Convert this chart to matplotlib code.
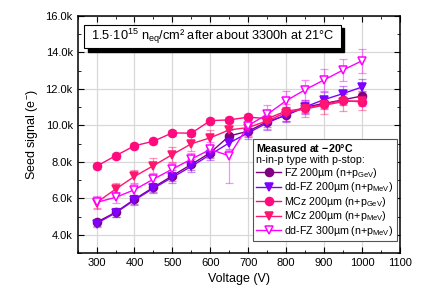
import matplotlib.pyplot as plt
from matplotlib.patches import Rectangle
from matplotlib.ticker import MultipleLocator, FuncFormatter

plt.rcParams['font.family'] = ['Liberation Sans', 'DejaVu Sans']
plt.rcParams['mathtext.fontset'] = 'custom'
plt.rcParams['mathtext.rm'] = 'Liberation Sans'
plt.rcParams['mathtext.bf'] = 'Liberation Sans:bold'
plt.rcParams['mathtext.default'] = 'regular'

voltage = [300, 350, 400, 450, 500, 550, 600, 650, 700, 750, 800, 850, 900, 950, 1000]

# seed signal (e-) per sample
fz200_gev = [4690, 5230, 5950, 6600, 7240, 7860, 8500, 9420, 9680, 10200, 10550, 11000, 11200, 11400, 11610]
ddfz200_mev = [4620, 5200, 5900, 6550, 7150, 7750, 8400, 9040, 9590, 10130, 10590, 11010, 11410, 11740, 12100]
mcz200_gev = [7760, 8330, 8880, 9130, 9590, 9570, 10260, 10300, 10450, 10370, 10780, 10930, 11150, 11370, 11280]
mcz200_mev = [5770, 6500, 7200, 7790, 8400, 8990, 9320, 9750, 9880, 10250, 10700, 10900, 11100, 11300, 11350]
ddfz300_mev = [5780, 6050, 6470, 7050, 7600, 8150, 8680, 8330, 9990, 10600, 11350, 11950, 12490, 13030, 13540]

# errors
fz200_gev_err = [200, 250, 250, 250, 300, 300, 300, 300, 300, 300, 300, 300, 300, 300, 300]
ddfz200_mev_err = [200, 250, 250, 250, 300, 300, 300, 350, 350, 400, 400, 400, 400, 400, 450]
mcz200_gev_err = [150, 150, 150, 150, 150, 150, 150, 150, 150, 200, 200, 200, 200, 200, 200]
mcz200_mev_err = [300, 350, 350, 400, 400, 400, 400, 450, 450, 450, 450, 450, 450, 500, 500]
ddfz300_err_lo = [350, 300, 300, 300, 350, 350, 400, 1500, 500, 500, 550, 550, 600, 600, 650]
ddfz300_err_hi = [350, 300, 300, 300, 350, 350, 400, 300, 500, 500, 550, 550, 600, 600, 650]

series = [
    (fz200_gev, fz200_gev_err, 'FZ 200µm (n+p$_{GeV}$)', '#800080', 'o', True),
    (ddfz200_mev, ddfz200_mev_err, 'dd-FZ 200µm (n+p$_{MeV}$)', '#7f00ff', 'v', True),
    (mcz200_gev, mcz200_gev_err, 'MCz 200µm (n+p$_{GeV}$)', '#ff0a7f', 'o', True),
    (mcz200_mev, mcz200_mev_err, 'MCz 200µm (n+p$_{MeV}$)', '#ff1670', 'v', True),
    (ddfz300_mev, [ddfz300_err_lo, ddfz300_err_hi], 'dd-FZ 300µm (n+p$_{MeV}$)', '#ff00ff', 'v', False),
]

fig = plt.figure(figsize=(4.24, 3.06), dpi=100)
ax = fig.add_axes([0.183, 0.173, 0.76, 0.775])

handles = []
for y, err, lab, col, mk, filled in series:
    ax.errorbar(voltage, y, yerr=err, fmt='none', ecolor=col, alpha=0.45,
                elinewidth=0.9, capsize=3, capthick=0.9, zorder=2)
    h, = ax.plot(voltage, y, color=col, lw=1.0, marker=mk, markersize=5.8,
                 markerfacecolor=col if filled else 'white',
                 markeredgecolor=col, markeredgewidth=1.1, label=lab, zorder=3)
    handles.append(h)

ax.set_xlim(250, 1100)
ax.set_ylim(3000, 16000)
ax.xaxis.set_major_locator(MultipleLocator(100))
ax.xaxis.set_minor_locator(MultipleLocator(50))
ax.yaxis.set_minor_locator(MultipleLocator(1000))
ax.set_yticks([4000, 6000, 8000, 10000, 12000, 14000, 16000])
ax.yaxis.set_major_formatter(FuncFormatter(lambda v, p: f"{v/1000:.1f}k"))
ax.tick_params(which='both', direction='in', top=True, right=True, labelsize=8)
ax.tick_params(which='major', length=4)
ax.tick_params(which='minor', length=2.5)
ax.grid(True, which='major', color='#d8d8d8', lw=0.9)
ax.set_axisbelow(True)
for s in ax.spines.values():
    s.set_linewidth(1.1)

ax.set_xlabel('Voltage (V)', fontsize=9)
ax.set_ylabel('Seed signal (e$^{-}$)', fontsize=9)

# title box with black shadow
ax.add_patch(Rectangle((0.031, 0.849), 0.795, 0.099, transform=ax.transAxes,
                       fc='black', ec='black', zorder=5))
ax.add_patch(Rectangle((0.021, 0.864), 0.795, 0.099, transform=ax.transAxes,
                       fc='white', ec='black', lw=0.8, zorder=6))
ax.text(0.4185, 0.912, '1.5·10$^{15}$ n$_{eq}$/cm² after about 3300h at 21°C',
        transform=ax.transAxes, fontsize=9.2, ha='center', va='center', zorder=7)

leg = ax.legend(handles=handles, loc='lower right', bbox_to_anchor=(0.99, 0.05),
                fontsize=7.7, title='$\\bf{Measured\\ at\\ {-}20°C}$\nn-in-p type with p-stop:',
                title_fontsize=7.7, alignment='left', frameon=True, fancybox=False,
                edgecolor='#555555', framealpha=1, handlelength=2.3, handletextpad=0.3,
                labelspacing=0.05, borderpad=0.3, borderaxespad=0.0)
leg.get_title().set_multialignment('left')
leg.get_frame().set_linewidth(0.8)
leg.set_zorder(8)

fig.savefig('out.png', dpi=100)
